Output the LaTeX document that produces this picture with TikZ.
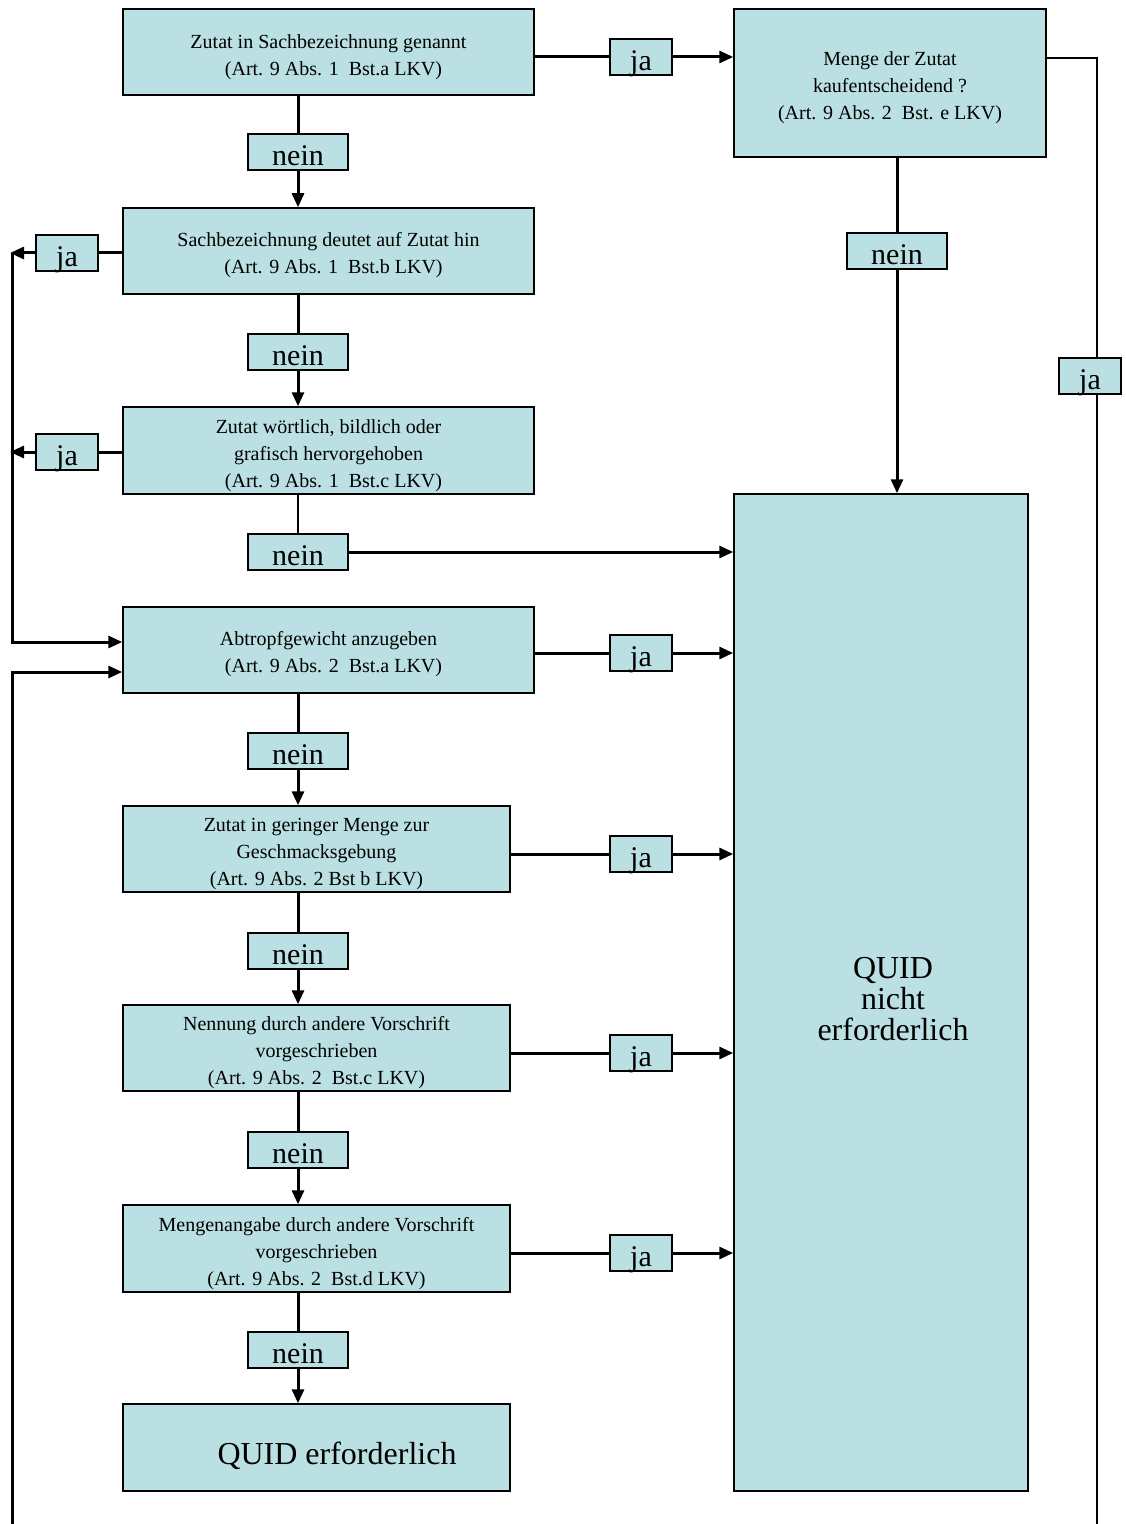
\documentclass[tikz,border=0pt]{standalone}
\usepackage{fontspec}
\setmainfont{Liberation Serif}
\usetikzlibrary{arrows.meta}
\definecolor{boxfill}{RGB}{187,224,227}
\tikzset{
  box/.style={draw, line width=0.75pt, fill=boxfill, inner sep=0pt},
  boxtext/.style={inner sep=0pt, align=center, font=\fontsize{10}{13.5}\selectfont},
  bigtext/.style={inner sep=0pt, align=center, font=\fontsize{16}{15.5}\selectfont},
  lbl/.style={draw, line width=0.75pt, fill=boxfill, inner sep=0pt, minimum height=18pt, text height=13.4pt, text depth=0pt, font=\fontsize{15}{15}\selectfont},
  jabox/.style={lbl, minimum width=31pt},
  neinbox/.style={lbl, minimum width=50pt},
  conn/.style={line width=1.5pt},
  thin/.style={line width=1pt},
  arr/.style={conn, -{Triangle[length=7pt,width=6pt]}}
}
\begin{document}
\begin{tikzpicture}[x=0.5pt, y=-0.5pt]
\useasboundingbox (0,0) rectangle (1125,1524);
% boxes
\node[box, minimum width=205.5pt, minimum height=43pt] (A) at (328.5,52) {};
\node[box, minimum width=156pt, minimum height=74pt] (B) at (890,83) {};
\node[box, minimum width=205.5pt, minimum height=43pt] (C) at (328.5,251) {};
\node[box, minimum width=205.5pt, minimum height=43.5pt] (D) at (328.5,450.5) {};
\node[box, minimum width=205.5pt, minimum height=43pt] (E) at (328.5,650) {};
\node[box, minimum width=193.5pt, minimum height=43pt] (F) at (316.5,849) {};
\node[box, minimum width=193.5pt, minimum height=43pt] (G) at (316.5,1048) {};
\node[box, minimum width=193.5pt, minimum height=43.5pt] (H) at (316.5,1248.5) {};
\node[box, minimum width=193.5pt, minimum height=43.5pt] (I) at (316.5,1447.5) {};
\node[box, minimum width=147pt, minimum height=498.5pt] (Q) at (881,992.5) {};
% box texts
\node[boxtext] (At) at ([yshift=-2.5pt]A.center) {Zutat in Sachbezeichnung genannt\\ \hspace{0.5em}(Art. 9 Abs. 1\ \ Bst.a LKV)};
\node[boxtext] (Bt) at ([yshift=-2.2pt]B.center) {Menge der Zutat\\ kaufentscheidend ?\\ (Art. 9 Abs. 2\ \ Bst. e LKV)};
\node[boxtext] (Ct) at ([yshift=-2.2pt]C.center) {Sachbezeichnung deutet auf Zutat hin\\ \hspace{0.5em}(Art. 9 Abs. 1\ \ Bst.b LKV)};
\node[boxtext] (Dt) at ([yshift=-2.7pt]D.center) {Zutat wörtlich, bildlich oder\\ grafisch hervorgehoben\\ \hspace{0.5em}(Art. 9 Abs. 1\ \ Bst.c LKV)};
\node[boxtext] (Et) at ([yshift=-2.2pt]E.center) {Abtropfgewicht anzugeben\\ \hspace{0.5em}(Art. 9 Abs. 2\ \ Bst.a LKV)};
\node[boxtext] (Ft) at ([yshift=-2.5pt]F.center) {Zutat in geringer Menge zur\\ Geschmacksgebung\\ (Art. 9 Abs. 2 Bst b LKV)};
\node[boxtext] (Gt) at ([yshift=-2.5pt]G.center) {Nennung durch andere Vorschrift\\ vorgeschrieben\\ (Art. 9 Abs. 2\ \ Bst.c LKV)};
\node[boxtext] (Ht) at ([yshift=-2.5pt]H.center) {Mengenangabe durch andere Vorschrift\\ vorgeschrieben\\ (Art. 9 Abs. 2\ \ Bst.d LKV)};
\node[bigtext] (It) at ([yshift=-4pt]I.center) {\hspace{20.5pt}QUID erforderlich};
\node[bigtext] (Qt) at ([yshift=-3.5pt]Q.center) {\hspace{12pt}QUID\\ \hspace{12pt}nicht\\ \hspace{12pt}erforderlich};
% labels
\node[jabox] (ja1) at (641,57) {ja};
\node[neinbox] (n1) at (298,152) {nein};
\node[jabox] (ja2) at (67,253) {ja};
\node[neinbox] (n2) at (298,352) {nein};
\node[jabox] (ja3) at (67,452) {ja};
\node[neinbox] (n3) at (298,552) {nein};
\node[jabox] (ja4) at (641,653) {ja};
\node[neinbox] (n4) at (298,751) {nein};
\node[jabox] (ja5) at (641,854) {ja};
\node[neinbox] (n5) at (298,951) {nein};
\node[jabox] (ja6) at (641,1053) {ja};
\node[neinbox] (n6) at (298,1150) {nein};
\node[jabox] (ja7) at (641,1253) {ja};
\node[neinbox] (n7) at (298,1350) {nein};
\node[neinbox] (n8) at (897,251) {nein};
\node[jabox] (ja8) at (1090,376) {ja};
% free ends
\coordinate (L1) at (10,253);
\coordinate (L2) at (10,452);
\coordinate (V1) at (12,253);
\coordinate (V2) at (12,642);
\coordinate (W1) at (12,1524);
\coordinate (W2) at (12,672);
\coordinate (R1) at (1097,58);
\coordinate (R2) at (1097,1524);
% A
\draw[conn] (A.east |- ja1) -- (ja1.west);
\draw[arr] (ja1.east) -- (ja1 -| B.west);
\draw[conn] (A.south -| n1) -- (n1.north);
\draw[arr] (n1.south) -- (n1 |- C.north);
% C
\draw[conn] (C.west |- ja2) -- (ja2.east);
\draw[arr] (ja2.west) -- (L1);
\draw[conn] (C.south -| n2) -- (n2.north);
\draw[arr] (n2.south) -- (n2 |- D.north);
% D
\draw[conn] (D.west |- ja3) -- (ja3.east);
\draw[arr] (ja3.west) -- (L2);
\draw[thin] (D.south -| n3) -- (n3.north);
\draw[arr] (n3.east) -- (n3 -| Q.west);
% left feedback lines
\draw[arr] (V1) -- (V2) -- (V2 -| E.west);
\draw[arr] (W1) -- (W2) -- (W2 -| E.west);
% E
\draw[conn] (E.east |- ja4) -- (ja4.west);
\draw[arr] (ja4.east) -- (ja4 -| Q.west);
\draw[conn] (E.south -| n4) -- (n4.north);
\draw[arr] (n4.south) -- (n4 |- F.north);
% F
\draw[conn] (F.east |- ja5) -- (ja5.west);
\draw[arr] (ja5.east) -- (ja5 -| Q.west);
\draw[conn] (F.south -| n5) -- (n5.north);
\draw[arr] (n5.south) -- (n5 |- G.north);
% G
\draw[conn] (G.east |- ja6) -- (ja6.west);
\draw[arr] (ja6.east) -- (ja6 -| Q.west);
\draw[conn] (G.south -| n6) -- (n6.north);
\draw[arr] (n6.south) -- (n6 |- H.north);
% H
\draw[conn] (H.east |- ja7) -- (ja7.west);
\draw[arr] (ja7.east) -- (ja7 -| Q.west);
\draw[conn] (H.south -| n7) -- (n7.north);
\draw[arr] (n7.south) -- (n7 |- I.north);
% B
\draw[conn] (B.south -| n8) -- (n8.north);
\draw[arr] (n8.south) -- (n8 |- Q.north);
\draw[thin] (B.east |- R1) -- (R1) -- (R1 |- ja8.north);
\draw[thin] (R1 |- ja8.south) -- (R2);
\end{tikzpicture}
\end{document}
